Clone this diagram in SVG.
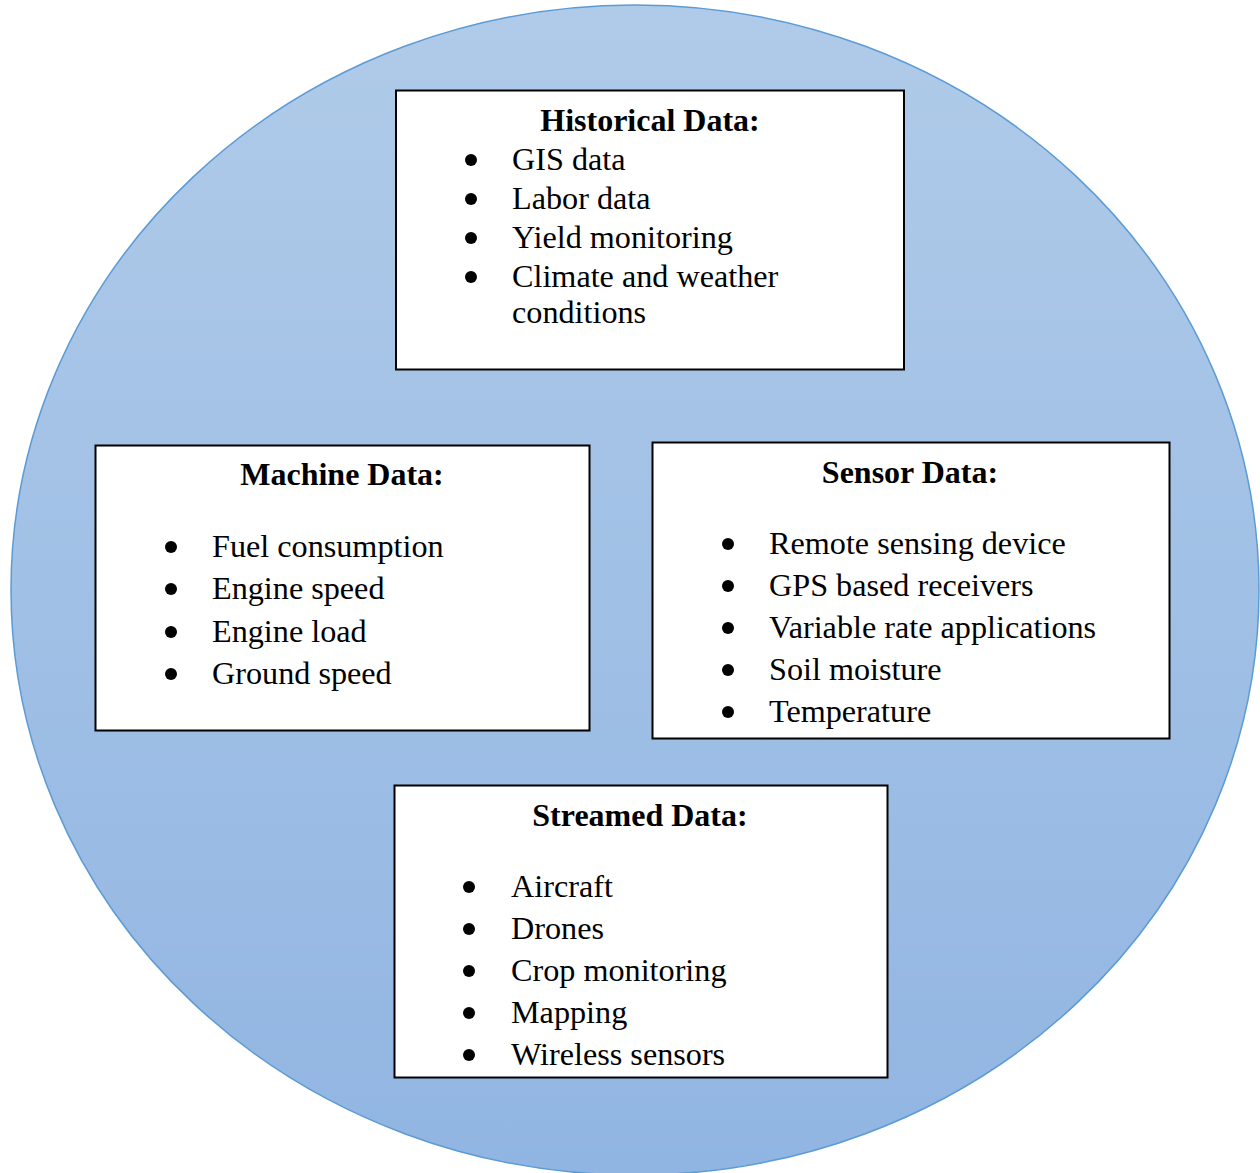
<svg xmlns="http://www.w3.org/2000/svg" width="1260" height="1173" viewBox="0 0 1260 1173">
  <defs>
    <linearGradient id="discFill" x1="0" y1="0" x2="0" y2="1">
      <stop offset="0" stop-color="#b0cbe9"/>
      <stop offset="1" stop-color="#91b5e2"/>
    </linearGradient>
    <style>
      .box { fill: #ffffff; stroke: #000000; stroke-width: 2; }
      .title { font-family: "Liberation Serif", "Times New Roman", serif; font-weight: bold; font-size: 32px; fill: #000; text-anchor: middle; }
      .item { font-family: "Liberation Serif", "Times New Roman", serif; font-size: 32.2px; fill: #000; }
      .dot { fill: #000; }
    </style>
  </defs>

  <!-- background disc -->
  <ellipse cx="635" cy="590" rx="624" ry="585" fill="url(#discFill)" stroke="#5b9bd5" stroke-width="1.5"/>

  <g id="connectors"></g>

  <!-- Historical Data -->
  <g id="historical">
    <rect class="box" x="396" y="90.5" width="508" height="279"/>
    <text class="title" x="650" y="131">Historical Data:</text>
    <circle class="dot" cx="471" cy="160" r="6"/>
    <circle class="dot" cx="471" cy="199" r="6"/>
    <circle class="dot" cx="471" cy="238" r="6"/>
    <circle class="dot" cx="471" cy="277" r="6"/>
    <text class="item" x="512" y="170">GIS data</text>
    <text class="item" x="512" y="209">Labor data</text>
    <text class="item" x="512" y="248">Yield monitoring</text>
    <text class="item" x="512" y="287">Climate and weather</text>
    <text class="item" x="512" y="323">conditions</text>
  </g>

  <!-- Machine Data -->
  <g id="machine">
    <rect class="box" x="95.5" y="445.5" width="494" height="285"/>
    <text class="title" x="342" y="485">Machine Data:</text>
    <circle class="dot" cx="171" cy="547" r="6"/>
    <circle class="dot" cx="171" cy="589" r="6"/>
    <circle class="dot" cx="171" cy="632" r="6"/>
    <circle class="dot" cx="171" cy="674" r="6"/>
    <text class="item" x="212" y="557">Fuel consumption</text>
    <text class="item" x="212" y="599">Engine speed</text>
    <text class="item" x="212" y="642">Engine load</text>
    <text class="item" x="212" y="684">Ground speed</text>
  </g>

  <!-- Sensor Data -->
  <g id="sensor">
    <rect class="box" x="652.5" y="442.5" width="517" height="296"/>
    <text class="title" x="910" y="483">Sensor Data:</text>
    <circle class="dot" cx="728" cy="544" r="6"/>
    <circle class="dot" cx="728" cy="586" r="6"/>
    <circle class="dot" cx="728" cy="628" r="6"/>
    <circle class="dot" cx="728" cy="670" r="6"/>
    <circle class="dot" cx="728" cy="712" r="6"/>
    <text class="item" x="769" y="554">Remote sensing device</text>
    <text class="item" x="769" y="596">GPS based receivers</text>
    <text class="item" x="769" y="638">Variable rate applications</text>
    <text class="item" x="769" y="680">Soil moisture</text>
    <text class="item" x="769" y="722">Temperature</text>
  </g>

  <!-- Streamed Data -->
  <g id="streamed">
    <rect class="box" x="394.5" y="785.5" width="493" height="292"/>
    <text class="title" x="640" y="826">Streamed Data:</text>
    <circle class="dot" cx="469" cy="887" r="6"/>
    <circle class="dot" cx="469" cy="929" r="6"/>
    <circle class="dot" cx="469" cy="971" r="6"/>
    <circle class="dot" cx="469" cy="1013" r="6"/>
    <circle class="dot" cx="469" cy="1055" r="6"/>
    <text class="item" x="511" y="897">Aircraft</text>
    <text class="item" x="511" y="939">Drones</text>
    <text class="item" x="511" y="981">Crop monitoring</text>
    <text class="item" x="511" y="1023">Mapping</text>
    <text class="item" x="511" y="1065">Wireless sensors</text>
  </g>
</svg>
